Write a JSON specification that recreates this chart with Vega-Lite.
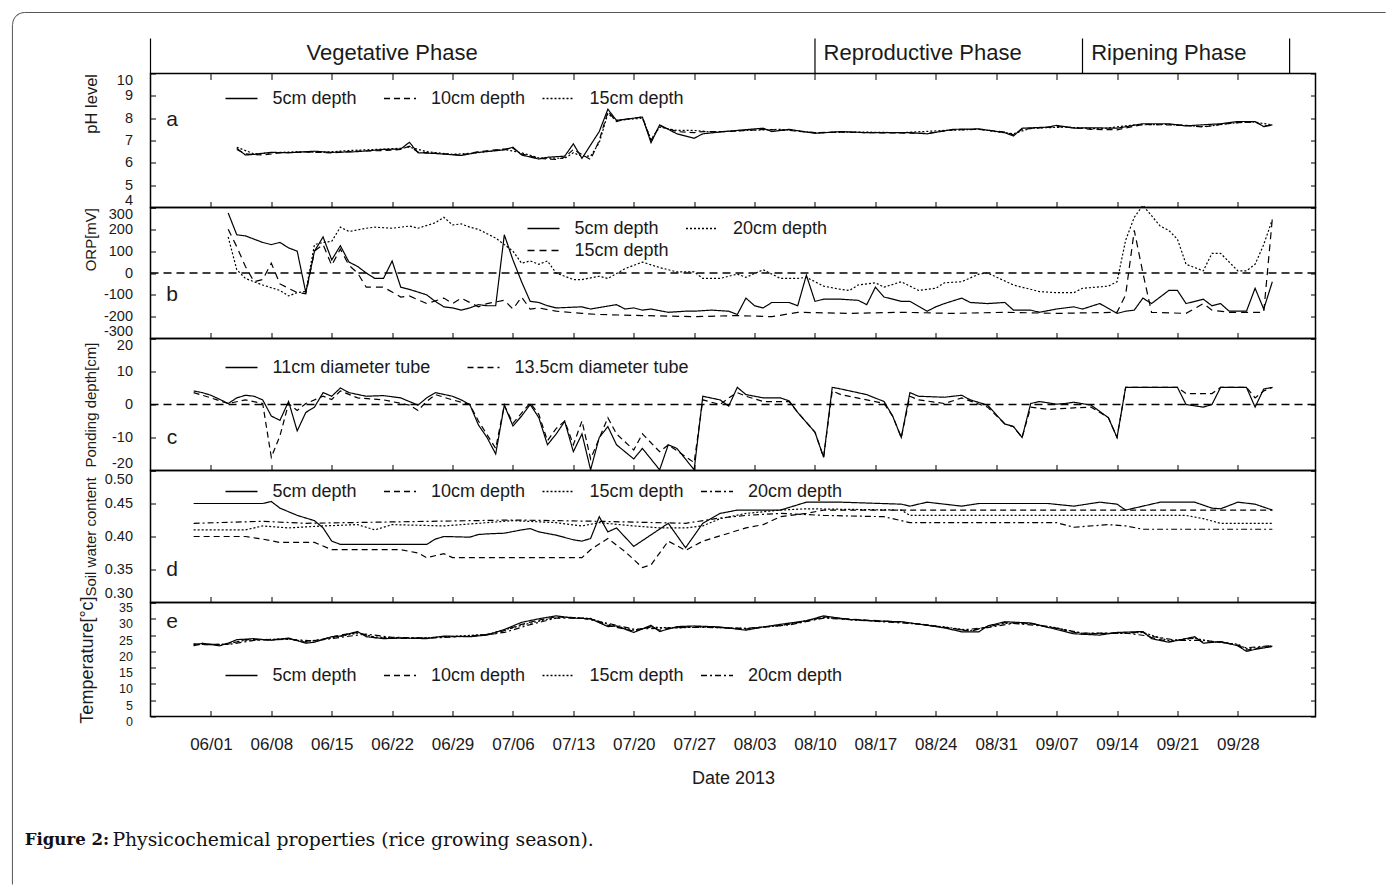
{
"$schema":"https://vega.github.io/schema/vega-lite/v6.json",
"padding":{"left":11.5,"top":11.5,"right":0,"bottom":0},
"background":"white",
"spacing":0,
"bounds":"flush",
"config":{
 "font":"Liberation Sans",
 "view":{"stroke":"black","strokeWidth":1.5},
 "axis":{"labelFont":"Liberation Sans","labelFontSize":14.5,"labelColor":"#1a1a1a","titleFont":"Liberation Sans","titleFontSize":15,"titleFontWeight":"normal","titleColor":"#1a1a1a","tickColor":"black","tickWidth":1,"domain":false,"grid":false},
 "axisY":{"labelFlush":1,"labelOverlap":false},
 "legend":{"orient":"none","direction":"horizontal","symbolType":"stroke","symbolSize":1024,"symbolStrokeWidth":1.3,"symbolStrokeColor":"black","labelFont":"Liberation Sans","labelFontSize":18,"labelColor":"#1a1a1a","labelOffset":14,"labelLimit":320,"columnPadding":15.5,"rowPadding":2,"gridAlign":"all","clipHeight":20,"padding":0}
},
"resolve":{"scale":{"x":"independent","y":"independent","strokeDash":"independent"},"legend":{"strokeDash":"independent"}},
"datasets":{
"phases":[{"date":"2013-05-25"},{"date":"2013-08-10"},{"date":"2013-09-10"},{"date":"2013-10-04"}],
"phaseC":[{"date":"2013-06-22","name":"Vegetative Phase"}],
"phaseL":[{"date":"2013-08-11","name":"Reproductive Phase"},{"date":"2013-09-11","name":"Ripening Phase"}],
"ph":[
{"date":"2013-06-04","depth":"5cm depth","value":6.65},{"date":"2013-06-05","depth":"5cm depth","value":6.35},{"date":"2013-06-06","depth":"5cm depth","value":6.38},{"date":"2013-06-08","depth":"5cm depth","value":6.47},{"date":"2013-06-10","depth":"5cm depth","value":6.45},{"date":"2013-06-13","depth":"5cm depth","value":6.52},{"date":"2013-06-15","depth":"5cm depth","value":6.47},{"date":"2013-06-18","depth":"5cm depth","value":6.5},{"date":"2013-06-21","depth":"5cm depth","value":6.6},{"date":"2013-06-23","depth":"5cm depth","value":6.62},{"date":"2013-06-24","depth":"5cm depth","value":6.92},{"date":"2013-06-25","depth":"5cm depth","value":6.45},{"date":"2013-06-27","depth":"5cm depth","value":6.42},{"date":"2013-06-30","depth":"5cm depth","value":6.33},{"date":"2013-07-02","depth":"5cm depth","value":6.47},{"date":"2013-07-05","depth":"5cm depth","value":6.58},{"date":"2013-07-06","depth":"5cm depth","value":6.7},{"date":"2013-07-07","depth":"5cm depth","value":6.35},{"date":"2013-07-09","depth":"5cm depth","value":6.17},{"date":"2013-07-10","depth":"5cm depth","value":6.25},{"date":"2013-07-12","depth":"5cm depth","value":6.3},{"date":"2013-07-13","depth":"5cm depth","value":6.85},{"date":"2013-07-14","depth":"5cm depth","value":6.2},{"date":"2013-07-16","depth":"5cm depth","value":7.4},{"date":"2013-07-17","depth":"5cm depth","value":8.4},{"date":"2013-07-18","depth":"5cm depth","value":7.9},{"date":"2013-07-19","depth":"5cm depth","value":7.95},{"date":"2013-07-21","depth":"5cm depth","value":8.05},{"date":"2013-07-22","depth":"5cm depth","value":6.9},{"date":"2013-07-23","depth":"5cm depth","value":7.7},{"date":"2013-07-25","depth":"5cm depth","value":7.3},{"date":"2013-07-27","depth":"5cm depth","value":7.1},{"date":"2013-07-28","depth":"5cm depth","value":7.3},{"date":"2013-07-31","depth":"5cm depth","value":7.42},{"date":"2013-08-04","depth":"5cm depth","value":7.55},{"date":"2013-08-05","depth":"5cm depth","value":7.4},{"date":"2013-08-07","depth":"5cm depth","value":7.5},{"date":"2013-08-10","depth":"5cm depth","value":7.32},{"date":"2013-08-13","depth":"5cm depth","value":7.4},{"date":"2013-08-16","depth":"5cm depth","value":7.35},{"date":"2013-08-21","depth":"5cm depth","value":7.35},{"date":"2013-08-23","depth":"5cm depth","value":7.3},{"date":"2013-08-26","depth":"5cm depth","value":7.5},{"date":"2013-08-29","depth":"5cm depth","value":7.52},{"date":"2013-09-01","depth":"5cm depth","value":7.35},{"date":"2013-09-02","depth":"5cm depth","value":7.2},{"date":"2013-09-03","depth":"5cm depth","value":7.55},{"date":"2013-09-06","depth":"5cm depth","value":7.6},{"date":"2013-09-07","depth":"5cm depth","value":7.68},{"date":"2013-09-09","depth":"5cm depth","value":7.55},{"date":"2013-09-11","depth":"5cm depth","value":7.57},{"date":"2013-09-14","depth":"5cm depth","value":7.55},{"date":"2013-09-17","depth":"5cm depth","value":7.75},{"date":"2013-09-20","depth":"5cm depth","value":7.75},{"date":"2013-09-22","depth":"5cm depth","value":7.65},{"date":"2013-09-23","depth":"5cm depth","value":7.68},{"date":"2013-09-26","depth":"5cm depth","value":7.75},{"date":"2013-09-28","depth":"5cm depth","value":7.85},{"date":"2013-09-30","depth":"5cm depth","value":7.85},{"date":"2013-10-01","depth":"5cm depth","value":7.62},{"date":"2013-10-02","depth":"5cm depth","value":7.7},
{"date":"2013-06-04","depth":"10cm depth","value":6.6},{"date":"2013-06-05","depth":"10cm depth","value":6.4},{"date":"2013-06-07","depth":"10cm depth","value":6.35},{"date":"2013-06-09","depth":"10cm depth","value":6.45},{"date":"2013-06-12","depth":"10cm depth","value":6.48},{"date":"2013-06-15","depth":"10cm depth","value":6.45},{"date":"2013-06-18","depth":"10cm depth","value":6.52},{"date":"2013-06-21","depth":"10cm depth","value":6.55},{"date":"2013-06-23","depth":"10cm depth","value":6.6},{"date":"2013-06-24","depth":"10cm depth","value":6.75},{"date":"2013-06-25","depth":"10cm depth","value":6.48},{"date":"2013-06-28","depth":"10cm depth","value":6.4},{"date":"2013-06-30","depth":"10cm depth","value":6.35},{"date":"2013-07-02","depth":"10cm depth","value":6.5},{"date":"2013-07-05","depth":"10cm depth","value":6.62},{"date":"2013-07-06","depth":"10cm depth","value":6.65},{"date":"2013-07-07","depth":"10cm depth","value":6.4},{"date":"2013-07-09","depth":"10cm depth","value":6.2},{"date":"2013-07-11","depth":"10cm depth","value":6.15},{"date":"2013-07-12","depth":"10cm depth","value":6.25},{"date":"2013-07-13","depth":"10cm depth","value":6.6},{"date":"2013-07-15","depth":"10cm depth","value":6.15},{"date":"2013-07-16","depth":"10cm depth","value":7.0},{"date":"2013-07-17","depth":"10cm depth","value":8.3},{"date":"2013-07-18","depth":"10cm depth","value":7.85},{"date":"2013-07-19","depth":"10cm depth","value":7.95},{"date":"2013-07-21","depth":"10cm depth","value":8.05},{"date":"2013-07-22","depth":"10cm depth","value":7.0},{"date":"2013-07-23","depth":"10cm depth","value":7.65},{"date":"2013-07-25","depth":"10cm depth","value":7.4},{"date":"2013-07-27","depth":"10cm depth","value":7.35},{"date":"2013-07-28","depth":"10cm depth","value":7.4},{"date":"2013-07-31","depth":"10cm depth","value":7.4},{"date":"2013-08-04","depth":"10cm depth","value":7.5},{"date":"2013-08-07","depth":"10cm depth","value":7.45},{"date":"2013-08-10","depth":"10cm depth","value":7.35},{"date":"2013-08-13","depth":"10cm depth","value":7.38},{"date":"2013-08-16","depth":"10cm depth","value":7.35},{"date":"2013-08-21","depth":"10cm depth","value":7.33},{"date":"2013-08-23","depth":"10cm depth","value":7.32},{"date":"2013-08-26","depth":"10cm depth","value":7.48},{"date":"2013-08-29","depth":"10cm depth","value":7.5},{"date":"2013-09-01","depth":"10cm depth","value":7.38},{"date":"2013-09-02","depth":"10cm depth","value":7.25},{"date":"2013-09-03","depth":"10cm depth","value":7.5},{"date":"2013-09-07","depth":"10cm depth","value":7.62},{"date":"2013-09-09","depth":"10cm depth","value":7.58},{"date":"2013-09-11","depth":"10cm depth","value":7.5},{"date":"2013-09-14","depth":"10cm depth","value":7.48},{"date":"2013-09-17","depth":"10cm depth","value":7.72},{"date":"2013-09-20","depth":"10cm depth","value":7.7},{"date":"2013-09-22","depth":"10cm depth","value":7.68},{"date":"2013-09-24","depth":"10cm depth","value":7.6},{"date":"2013-09-26","depth":"10cm depth","value":7.72},{"date":"2013-09-28","depth":"10cm depth","value":7.8},{"date":"2013-09-30","depth":"10cm depth","value":7.83},{"date":"2013-10-01","depth":"10cm depth","value":7.65},{"date":"2013-10-02","depth":"10cm depth","value":7.68},
{"date":"2013-06-04","depth":"15cm depth","value":6.7},{"date":"2013-06-06","depth":"15cm depth","value":6.4},{"date":"2013-06-08","depth":"15cm depth","value":6.45},{"date":"2013-06-11","depth":"15cm depth","value":6.5},{"date":"2013-06-14","depth":"15cm depth","value":6.47},{"date":"2013-06-17","depth":"15cm depth","value":6.55},{"date":"2013-06-20","depth":"15cm depth","value":6.6},{"date":"2013-06-23","depth":"15cm depth","value":6.65},{"date":"2013-06-24","depth":"15cm depth","value":6.7},{"date":"2013-06-26","depth":"15cm depth","value":6.5},{"date":"2013-06-29","depth":"15cm depth","value":6.38},{"date":"2013-07-02","depth":"15cm depth","value":6.45},{"date":"2013-07-05","depth":"15cm depth","value":6.6},{"date":"2013-07-07","depth":"15cm depth","value":6.45},{"date":"2013-07-09","depth":"15cm depth","value":6.22},{"date":"2013-07-12","depth":"15cm depth","value":6.2},{"date":"2013-07-13","depth":"15cm depth","value":6.45},{"date":"2013-07-14","depth":"15cm depth","value":6.3},{"date":"2013-07-15","depth":"15cm depth","value":6.3},{"date":"2013-07-16","depth":"15cm depth","value":6.9},{"date":"2013-07-17","depth":"15cm depth","value":8.2},{"date":"2013-07-18","depth":"15cm depth","value":7.9},{"date":"2013-07-21","depth":"15cm depth","value":8.0},{"date":"2013-07-22","depth":"15cm depth","value":7.05},{"date":"2013-07-23","depth":"15cm depth","value":7.6},{"date":"2013-07-25","depth":"15cm depth","value":7.45},{"date":"2013-07-27","depth":"15cm depth","value":7.45},{"date":"2013-07-29","depth":"15cm depth","value":7.38},{"date":"2013-08-02","depth":"15cm depth","value":7.45},{"date":"2013-08-06","depth":"15cm depth","value":7.5},{"date":"2013-08-10","depth":"15cm depth","value":7.35},{"date":"2013-08-15","depth":"15cm depth","value":7.38},{"date":"2013-08-20","depth":"15cm depth","value":7.35},{"date":"2013-08-25","depth":"15cm depth","value":7.45},{"date":"2013-08-29","depth":"15cm depth","value":7.5},{"date":"2013-09-02","depth":"15cm depth","value":7.3},{"date":"2013-09-04","depth":"15cm depth","value":7.55},{"date":"2013-09-08","depth":"15cm depth","value":7.6},{"date":"2013-09-12","depth":"15cm depth","value":7.52},{"date":"2013-09-16","depth":"15cm depth","value":7.7},{"date":"2013-09-20","depth":"15cm depth","value":7.72},{"date":"2013-09-24","depth":"15cm depth","value":7.62},{"date":"2013-09-28","depth":"15cm depth","value":7.8},{"date":"2013-09-30","depth":"15cm depth","value":7.82},{"date":"2013-10-02","depth":"15cm depth","value":7.7}
],
"orp":[
{"date":"2013-06-03","depth":"5cm depth","value":275},{"date":"2013-06-04","depth":"5cm depth","value":175},{"date":"2013-06-05","depth":"5cm depth","value":170},{"date":"2013-06-07","depth":"5cm depth","value":140},{"date":"2013-06-08","depth":"5cm depth","value":130},{"date":"2013-06-09","depth":"5cm depth","value":140},{"date":"2013-06-10","depth":"5cm depth","value":115},{"date":"2013-06-11","depth":"5cm depth","value":100},{"date":"2013-06-12","depth":"5cm depth","value":-90},{"date":"2013-06-13","depth":"5cm depth","value":100},{"date":"2013-06-14","depth":"5cm depth","value":165},{"date":"2013-06-15","depth":"5cm depth","value":60},{"date":"2013-06-16","depth":"5cm depth","value":125},{"date":"2013-06-17","depth":"5cm depth","value":50},{"date":"2013-06-18","depth":"5cm depth","value":30},{"date":"2013-06-19","depth":"5cm depth","value":0},{"date":"2013-06-20","depth":"5cm depth","value":-25},{"date":"2013-06-21","depth":"5cm depth","value":-25},{"date":"2013-06-22","depth":"5cm depth","value":55},{"date":"2013-06-23","depth":"5cm depth","value":-65},{"date":"2013-06-24","depth":"5cm depth","value":-75},{"date":"2013-06-26","depth":"5cm depth","value":-100},{"date":"2013-06-27","depth":"5cm depth","value":-130},{"date":"2013-06-28","depth":"5cm depth","value":-155},{"date":"2013-06-29","depth":"5cm depth","value":-160},{"date":"2013-06-30","depth":"5cm depth","value":-170},{"date":"2013-07-01","depth":"5cm depth","value":-160},{"date":"2013-07-02","depth":"5cm depth","value":-145},{"date":"2013-07-03","depth":"5cm depth","value":-150},{"date":"2013-07-04","depth":"5cm depth","value":-150},{"date":"2013-07-05","depth":"5cm depth","value":175},{"date":"2013-07-06","depth":"5cm depth","value":60},{"date":"2013-07-07","depth":"5cm depth","value":-40},{"date":"2013-07-08","depth":"5cm depth","value":-130},{"date":"2013-07-09","depth":"5cm depth","value":-135},{"date":"2013-07-10","depth":"5cm depth","value":-150},{"date":"2013-07-11","depth":"5cm depth","value":-160},{"date":"2013-07-14","depth":"5cm depth","value":-155},{"date":"2013-07-15","depth":"5cm depth","value":-165},{"date":"2013-07-18","depth":"5cm depth","value":-145},{"date":"2013-07-19","depth":"5cm depth","value":-165},{"date":"2013-07-20","depth":"5cm depth","value":-160},{"date":"2013-07-21","depth":"5cm depth","value":-170},{"date":"2013-07-22","depth":"5cm depth","value":-165},{"date":"2013-07-24","depth":"5cm depth","value":-180},{"date":"2013-07-26","depth":"5cm depth","value":-175},{"date":"2013-07-27","depth":"5cm depth","value":-175},{"date":"2013-07-29","depth":"5cm depth","value":-170},{"date":"2013-07-31","depth":"5cm depth","value":-175},{"date":"2013-08-01","depth":"5cm depth","value":-190},{"date":"2013-08-02","depth":"5cm depth","value":-115},{"date":"2013-08-03","depth":"5cm depth","value":-150},{"date":"2013-08-04","depth":"5cm depth","value":-160},{"date":"2013-08-05","depth":"5cm depth","value":-135},{"date":"2013-08-07","depth":"5cm depth","value":-135},{"date":"2013-08-08","depth":"5cm depth","value":-150},{"date":"2013-08-09","depth":"5cm depth","value":-10},{"date":"2013-08-10","depth":"5cm depth","value":-130},{"date":"2013-08-11","depth":"5cm depth","value":-120},{"date":"2013-08-13","depth":"5cm depth","value":-120},{"date":"2013-08-15","depth":"5cm depth","value":-125},{"date":"2013-08-16","depth":"5cm depth","value":-145},{"date":"2013-08-17","depth":"5cm depth","value":-65},{"date":"2013-08-18","depth":"5cm depth","value":-110},{"date":"2013-08-20","depth":"5cm depth","value":-130},{"date":"2013-08-21","depth":"5cm depth","value":-130},{"date":"2013-08-23","depth":"5cm depth","value":-175},{"date":"2013-08-24","depth":"5cm depth","value":-155},{"date":"2013-08-25","depth":"5cm depth","value":-140},{"date":"2013-08-27","depth":"5cm depth","value":-115},{"date":"2013-08-28","depth":"5cm depth","value":-135},{"date":"2013-08-30","depth":"5cm depth","value":-140},{"date":"2013-09-01","depth":"5cm depth","value":-135},{"date":"2013-09-02","depth":"5cm depth","value":-170},{"date":"2013-09-04","depth":"5cm depth","value":-170},{"date":"2013-09-05","depth":"5cm depth","value":-180},{"date":"2013-09-07","depth":"5cm depth","value":-165},{"date":"2013-09-09","depth":"5cm depth","value":-155},{"date":"2013-09-10","depth":"5cm depth","value":-165},{"date":"2013-09-12","depth":"5cm depth","value":-140},{"date":"2013-09-14","depth":"5cm depth","value":-185},{"date":"2013-09-15","depth":"5cm depth","value":-175},{"date":"2013-09-16","depth":"5cm depth","value":-170},{"date":"2013-09-17","depth":"5cm depth","value":-115},{"date":"2013-09-18","depth":"5cm depth","value":-140},{"date":"2013-09-20","depth":"5cm depth","value":-80},{"date":"2013-09-21","depth":"5cm depth","value":-80},{"date":"2013-09-22","depth":"5cm depth","value":-140},{"date":"2013-09-24","depth":"5cm depth","value":-120},{"date":"2013-09-25","depth":"5cm depth","value":-150},{"date":"2013-09-26","depth":"5cm depth","value":-140},{"date":"2013-09-27","depth":"5cm depth","value":-175},{"date":"2013-09-29","depth":"5cm depth","value":-175},{"date":"2013-09-30","depth":"5cm depth","value":-70},{"date":"2013-10-01","depth":"5cm depth","value":-165},{"date":"2013-10-02","depth":"5cm depth","value":-40},
{"date":"2013-06-03","depth":"15cm depth","value":200},{"date":"2013-06-04","depth":"15cm depth","value":120},{"date":"2013-06-05","depth":"15cm depth","value":30},{"date":"2013-06-06","depth":"15cm depth","value":-40},{"date":"2013-06-07","depth":"15cm depth","value":-30},{"date":"2013-06-08","depth":"15cm depth","value":45},{"date":"2013-06-09","depth":"15cm depth","value":-50},{"date":"2013-06-10","depth":"15cm depth","value":-70},{"date":"2013-06-11","depth":"15cm depth","value":-90},{"date":"2013-06-12","depth":"15cm depth","value":-95},{"date":"2013-06-13","depth":"15cm depth","value":100},{"date":"2013-06-14","depth":"15cm depth","value":130},{"date":"2013-06-15","depth":"15cm depth","value":35},{"date":"2013-06-16","depth":"15cm depth","value":110},{"date":"2013-06-17","depth":"15cm depth","value":35},{"date":"2013-06-18","depth":"15cm depth","value":0},{"date":"2013-06-19","depth":"15cm depth","value":-65},{"date":"2013-06-21","depth":"15cm depth","value":-65},{"date":"2013-06-23","depth":"15cm depth","value":-110},{"date":"2013-06-24","depth":"15cm depth","value":-105},{"date":"2013-06-26","depth":"15cm depth","value":-140},{"date":"2013-06-28","depth":"15cm depth","value":-115},{"date":"2013-06-29","depth":"15cm depth","value":-140},{"date":"2013-06-30","depth":"15cm depth","value":-115},{"date":"2013-07-02","depth":"15cm depth","value":-155},{"date":"2013-07-03","depth":"15cm depth","value":-140},{"date":"2013-07-05","depth":"15cm depth","value":-125},{"date":"2013-07-06","depth":"15cm depth","value":-165},{"date":"2013-07-07","depth":"15cm depth","value":-110},{"date":"2013-07-08","depth":"15cm depth","value":-165},{"date":"2013-07-09","depth":"15cm depth","value":-160},{"date":"2013-07-11","depth":"15cm depth","value":-175},{"date":"2013-07-14","depth":"15cm depth","value":-185},{"date":"2013-07-16","depth":"15cm depth","value":-190},{"date":"2013-07-21","depth":"15cm depth","value":-195},{"date":"2013-07-27","depth":"15cm depth","value":-200},{"date":"2013-08-01","depth":"15cm depth","value":-195},{"date":"2013-08-05","depth":"15cm depth","value":-200},{"date":"2013-08-08","depth":"15cm depth","value":-180},{"date":"2013-08-14","depth":"15cm depth","value":-185},{"date":"2013-08-20","depth":"15cm depth","value":-180},{"date":"2013-08-26","depth":"15cm depth","value":-185},{"date":"2013-09-01","depth":"15cm depth","value":-180},{"date":"2013-09-07","depth":"15cm depth","value":-185},{"date":"2013-09-14","depth":"15cm depth","value":-180},{"date":"2013-09-15","depth":"15cm depth","value":-100},{"date":"2013-09-16","depth":"15cm depth","value":195},{"date":"2013-09-17","depth":"15cm depth","value":0},{"date":"2013-09-18","depth":"15cm depth","value":-180},{"date":"2013-09-22","depth":"15cm depth","value":-185},{"date":"2013-09-24","depth":"15cm depth","value":-140},{"date":"2013-09-25","depth":"15cm depth","value":-170},{"date":"2013-09-27","depth":"15cm depth","value":-180},{"date":"2013-10-01","depth":"15cm depth","value":-180},{"date":"2013-10-02","depth":"15cm depth","value":250},
{"date":"2013-06-03","depth":"20cm depth","value":165},{"date":"2013-06-04","depth":"20cm depth","value":15},{"date":"2013-06-05","depth":"20cm depth","value":-25},{"date":"2013-06-07","depth":"20cm depth","value":-55},{"date":"2013-06-09","depth":"20cm depth","value":-80},{"date":"2013-06-10","depth":"20cm depth","value":-105},{"date":"2013-06-11","depth":"20cm depth","value":-90},{"date":"2013-06-12","depth":"20cm depth","value":-85},{"date":"2013-06-13","depth":"20cm depth","value":130},{"date":"2013-06-14","depth":"20cm depth","value":140},{"date":"2013-06-15","depth":"20cm depth","value":145},{"date":"2013-06-16","depth":"20cm depth","value":210},{"date":"2013-06-17","depth":"20cm depth","value":190},{"date":"2013-06-19","depth":"20cm depth","value":205},{"date":"2013-06-20","depth":"20cm depth","value":210},{"date":"2013-06-22","depth":"20cm depth","value":205},{"date":"2013-06-24","depth":"20cm depth","value":215},{"date":"2013-06-25","depth":"20cm depth","value":205},{"date":"2013-06-27","depth":"20cm depth","value":230},{"date":"2013-06-28","depth":"20cm depth","value":255},{"date":"2013-06-29","depth":"20cm depth","value":220},{"date":"2013-06-30","depth":"20cm depth","value":225},{"date":"2013-07-01","depth":"20cm depth","value":210},{"date":"2013-07-02","depth":"20cm depth","value":200},{"date":"2013-07-03","depth":"20cm depth","value":180},{"date":"2013-07-04","depth":"20cm depth","value":160},{"date":"2013-07-06","depth":"20cm depth","value":100},{"date":"2013-07-07","depth":"20cm depth","value":45},{"date":"2013-07-08","depth":"20cm depth","value":55},{"date":"2013-07-09","depth":"20cm depth","value":40},{"date":"2013-07-10","depth":"20cm depth","value":55},{"date":"2013-07-11","depth":"20cm depth","value":0},{"date":"2013-07-13","depth":"20cm depth","value":-30},{"date":"2013-07-14","depth":"20cm depth","value":-30},{"date":"2013-07-16","depth":"20cm depth","value":-15},{"date":"2013-07-17","depth":"20cm depth","value":-25},{"date":"2013-07-19","depth":"20cm depth","value":20},{"date":"2013-07-21","depth":"20cm depth","value":50},{"date":"2013-07-23","depth":"20cm depth","value":25},{"date":"2013-07-25","depth":"20cm depth","value":5},{"date":"2013-07-27","depth":"20cm depth","value":5},{"date":"2013-07-28","depth":"20cm depth","value":-25},{"date":"2013-07-30","depth":"20cm depth","value":-25},{"date":"2013-08-01","depth":"20cm depth","value":-5},{"date":"2013-08-02","depth":"20cm depth","value":-20},{"date":"2013-08-04","depth":"20cm depth","value":15},{"date":"2013-08-06","depth":"20cm depth","value":-25},{"date":"2013-08-08","depth":"20cm depth","value":-25},{"date":"2013-08-09","depth":"20cm depth","value":-20},{"date":"2013-08-11","depth":"20cm depth","value":-60},{"date":"2013-08-13","depth":"20cm depth","value":-75},{"date":"2013-08-14","depth":"20cm depth","value":-80},{"date":"2013-08-15","depth":"20cm depth","value":-55},{"date":"2013-08-17","depth":"20cm depth","value":-45},{"date":"2013-08-18","depth":"20cm depth","value":-65},{"date":"2013-08-20","depth":"20cm depth","value":-40},{"date":"2013-08-22","depth":"20cm depth","value":-80},{"date":"2013-08-24","depth":"20cm depth","value":-70},{"date":"2013-08-25","depth":"20cm depth","value":-45},{"date":"2013-08-27","depth":"20cm depth","value":-40},{"date":"2013-08-29","depth":"20cm depth","value":-5},{"date":"2013-08-30","depth":"20cm depth","value":0},{"date":"2013-09-02","depth":"20cm depth","value":-55},{"date":"2013-09-05","depth":"20cm depth","value":-85},{"date":"2013-09-07","depth":"20cm depth","value":-90},{"date":"2013-09-09","depth":"20cm depth","value":-90},{"date":"2013-09-10","depth":"20cm depth","value":-70},{"date":"2013-09-13","depth":"20cm depth","value":-60},{"date":"2013-09-14","depth":"20cm depth","value":-40},{"date":"2013-09-15","depth":"20cm depth","value":150},{"date":"2013-09-16","depth":"20cm depth","value":255},{"date":"2013-09-17","depth":"20cm depth","value":310},{"date":"2013-09-19","depth":"20cm depth","value":215},{"date":"2013-09-20","depth":"20cm depth","value":195},{"date":"2013-09-21","depth":"20cm depth","value":155},{"date":"2013-09-22","depth":"20cm depth","value":40},{"date":"2013-09-24","depth":"20cm depth","value":10},{"date":"2013-09-25","depth":"20cm depth","value":90},{"date":"2013-09-26","depth":"20cm depth","value":90},{"date":"2013-09-28","depth":"20cm depth","value":10},{"date":"2013-09-29","depth":"20cm depth","value":10},{"date":"2013-09-30","depth":"20cm depth","value":40},{"date":"2013-10-01","depth":"20cm depth","value":130},{"date":"2013-10-02","depth":"20cm depth","value":245}
],
"pond":[
{"date":"2013-05-30","tube":"11cm diameter tube","value":4.1},{"date":"2013-05-31","tube":"11cm diameter tube","value":3.6},{"date":"2013-06-01","tube":"11cm diameter tube","value":2.8},{"date":"2013-06-02","tube":"11cm diameter tube","value":1.6},{"date":"2013-06-03","tube":"11cm diameter tube","value":0.3},{"date":"2013-06-04","tube":"11cm diameter tube","value":2.0},{"date":"2013-06-05","tube":"11cm diameter tube","value":2.8},{"date":"2013-06-06","tube":"11cm diameter tube","value":2.5},{"date":"2013-06-07","tube":"11cm diameter tube","value":1.4},{"date":"2013-06-08","tube":"11cm diameter tube","value":-3.5},{"date":"2013-06-09","tube":"11cm diameter tube","value":-4.8},{"date":"2013-06-10","tube":"11cm diameter tube","value":0.9},{"date":"2013-06-11","tube":"11cm diameter tube","value":-8},{"date":"2013-06-12","tube":"11cm diameter tube","value":-2.4},{"date":"2013-06-13","tube":"11cm diameter tube","value":-0.8},{"date":"2013-06-14","tube":"11cm diameter tube","value":3.6},{"date":"2013-06-15","tube":"11cm diameter tube","value":2.5},{"date":"2013-06-16","tube":"11cm diameter tube","value":5},{"date":"2013-06-17","tube":"11cm diameter tube","value":3.6},{"date":"2013-06-19","tube":"11cm diameter tube","value":2.5},{"date":"2013-06-21","tube":"11cm diameter tube","value":2.7},{"date":"2013-06-23","tube":"11cm diameter tube","value":2},{"date":"2013-06-24","tube":"11cm diameter tube","value":0.9},{"date":"2013-06-25","tube":"11cm diameter tube","value":-0.2},{"date":"2013-06-26","tube":"11cm diameter tube","value":2},{"date":"2013-06-27","tube":"11cm diameter tube","value":3.6},{"date":"2013-06-29","tube":"11cm diameter tube","value":2.5},{"date":"2013-06-30","tube":"11cm diameter tube","value":1.4},{"date":"2013-07-01","tube":"11cm diameter tube","value":0},{"date":"2013-07-02","tube":"11cm diameter tube","value":-6.2},{"date":"2013-07-03","tube":"11cm diameter tube","value":-10},{"date":"2013-07-04","tube":"11cm diameter tube","value":-15},{"date":"2013-07-05","tube":"11cm diameter tube","value":-0.2},{"date":"2013-07-06","tube":"11cm diameter tube","value":-6.5},{"date":"2013-07-07","tube":"11cm diameter tube","value":-3.5},{"date":"2013-07-08","tube":"11cm diameter tube","value":0},{"date":"2013-07-09","tube":"11cm diameter tube","value":-4},{"date":"2013-07-10","tube":"11cm diameter tube","value":-12.2},{"date":"2013-07-11","tube":"11cm diameter tube","value":-9},{"date":"2013-07-12","tube":"11cm diameter tube","value":-5.1},{"date":"2013-07-13","tube":"11cm diameter tube","value":-14.3},{"date":"2013-07-14","tube":"11cm diameter tube","value":-8.9},{"date":"2013-07-15","tube":"11cm diameter tube","value":-19.8},{"date":"2013-07-16","tube":"11cm diameter tube","value":-10},{"date":"2013-07-17","tube":"11cm diameter tube","value":-6.7},{"date":"2013-07-18","tube":"11cm diameter tube","value":-12.2},{"date":"2013-07-20","tube":"11cm diameter tube","value":-16.5},{"date":"2013-07-21","tube":"11cm diameter tube","value":-13.3},{"date":"2013-07-23","tube":"11cm diameter tube","value":-19.8},{"date":"2013-07-24","tube":"11cm diameter tube","value":-12.2},{"date":"2013-07-25","tube":"11cm diameter tube","value":-13.3},{"date":"2013-07-27","tube":"11cm diameter tube","value":-19.8},{"date":"2013-07-28","tube":"11cm diameter tube","value":2.5},{"date":"2013-07-30","tube":"11cm diameter tube","value":1.4},{"date":"2013-07-31","tube":"11cm diameter tube","value":-0.5},{"date":"2013-08-01","tube":"11cm diameter tube","value":5.2},{"date":"2013-08-02","tube":"11cm diameter tube","value":3},{"date":"2013-08-04","tube":"11cm diameter tube","value":2},{"date":"2013-08-06","tube":"11cm diameter tube","value":2},{"date":"2013-08-07","tube":"11cm diameter tube","value":1.1},{"date":"2013-08-08","tube":"11cm diameter tube","value":-2.4},{"date":"2013-08-10","tube":"11cm diameter tube","value":-8.4},{"date":"2013-08-11","tube":"11cm diameter tube","value":-16},{"date":"2013-08-12","tube":"11cm diameter tube","value":5.2},{"date":"2013-08-13","tube":"11cm diameter tube","value":4.7},{"date":"2013-08-16","tube":"11cm diameter tube","value":3},{"date":"2013-08-18","tube":"11cm diameter tube","value":0.9},{"date":"2013-08-19","tube":"11cm diameter tube","value":-3.5},{"date":"2013-08-20","tube":"11cm diameter tube","value":-10},{"date":"2013-08-21","tube":"11cm diameter tube","value":3.6},{"date":"2013-08-22","tube":"11cm diameter tube","value":2.5},{"date":"2013-08-25","tube":"11cm diameter tube","value":2.2},{"date":"2013-08-27","tube":"11cm diameter tube","value":2.8},{"date":"2013-08-28","tube":"11cm diameter tube","value":1.4},{"date":"2013-08-30","tube":"11cm diameter tube","value":-0.2},{"date":"2013-09-01","tube":"11cm diameter tube","value":-5.9},{"date":"2013-09-02","tube":"11cm diameter tube","value":-6.7},{"date":"2013-09-03","tube":"11cm diameter tube","value":-10},{"date":"2013-09-04","tube":"11cm diameter tube","value":0.3},{"date":"2013-09-05","tube":"11cm diameter tube","value":0.9},{"date":"2013-09-07","tube":"11cm diameter tube","value":0.1},{"date":"2013-09-08","tube":"11cm diameter tube","value":0.3},{"date":"2013-09-09","tube":"11cm diameter tube","value":0.7},{"date":"2013-09-11","tube":"11cm diameter tube","value":-0.2},{"date":"2013-09-13","tube":"11cm diameter tube","value":-4},{"date":"2013-09-14","tube":"11cm diameter tube","value":-10},{"date":"2013-09-15","tube":"11cm diameter tube","value":5.2},{"date":"2013-09-21","tube":"11cm diameter tube","value":5.2},{"date":"2013-09-22","tube":"11cm diameter tube","value":0},{"date":"2013-09-24","tube":"11cm diameter tube","value":-0.8},{"date":"2013-09-25","tube":"11cm diameter tube","value":0},{"date":"2013-09-26","tube":"11cm diameter tube","value":5.2},{"date":"2013-09-29","tube":"11cm diameter tube","value":5.2},{"date":"2013-09-30","tube":"11cm diameter tube","value":-0.8},{"date":"2013-10-01","tube":"11cm diameter tube","value":4.7},{"date":"2013-10-02","tube":"11cm diameter tube","value":5.2},
{"date":"2013-05-30","tube":"13.5cm diameter tube","value":3.6},{"date":"2013-06-01","tube":"13.5cm diameter tube","value":2},{"date":"2013-06-03","tube":"13.5cm diameter tube","value":0.3},{"date":"2013-06-05","tube":"13.5cm diameter tube","value":1.4},{"date":"2013-06-07","tube":"13.5cm diameter tube","value":0.3},{"date":"2013-06-08","tube":"13.5cm diameter tube","value":-16},{"date":"2013-06-09","tube":"13.5cm diameter tube","value":-9.5},{"date":"2013-06-10","tube":"13.5cm diameter tube","value":0.3},{"date":"2013-06-11","tube":"13.5cm diameter tube","value":-1.8},{"date":"2013-06-12","tube":"13.5cm diameter tube","value":0.3},{"date":"2013-06-14","tube":"13.5cm diameter tube","value":2.5},{"date":"2013-06-15","tube":"13.5cm diameter tube","value":1.5},{"date":"2013-06-16","tube":"13.5cm diameter tube","value":4.1},{"date":"2013-06-18","tube":"13.5cm diameter tube","value":2},{"date":"2013-06-21","tube":"13.5cm diameter tube","value":1.4},{"date":"2013-06-24","tube":"13.5cm diameter tube","value":-0.2},{"date":"2013-06-25","tube":"13.5cm diameter tube","value":-1.8},{"date":"2013-06-26","tube":"13.5cm diameter tube","value":0.9},{"date":"2013-06-27","tube":"13.5cm diameter tube","value":3},{"date":"2013-06-29","tube":"13.5cm diameter tube","value":1.4},{"date":"2013-07-01","tube":"13.5cm diameter tube","value":0},{"date":"2013-07-02","tube":"13.5cm diameter tube","value":-5},{"date":"2013-07-04","tube":"13.5cm diameter tube","value":-13.3},{"date":"2013-07-05","tube":"13.5cm diameter tube","value":-0.2},{"date":"2013-07-06","tube":"13.5cm diameter tube","value":-5.7},{"date":"2013-07-08","tube":"13.5cm diameter tube","value":0.5},{"date":"2013-07-09","tube":"13.5cm diameter tube","value":-3},{"date":"2013-07-10","tube":"13.5cm diameter tube","value":-11},{"date":"2013-07-11","tube":"13.5cm diameter tube","value":-7.3},{"date":"2013-07-12","tube":"13.5cm diameter tube","value":-5},{"date":"2013-07-13","tube":"13.5cm diameter tube","value":-12.2},{"date":"2013-07-14","tube":"13.5cm diameter tube","value":-5},{"date":"2013-07-15","tube":"13.5cm diameter tube","value":-16.5},{"date":"2013-07-17","tube":"13.5cm diameter tube","value":-4},{"date":"2013-07-18","tube":"13.5cm diameter tube","value":-8.9},{"date":"2013-07-20","tube":"13.5cm diameter tube","value":-13.8},{"date":"2013-07-21","tube":"13.5cm diameter tube","value":-8.9},{"date":"2013-07-23","tube":"13.5cm diameter tube","value":-14.3},{"date":"2013-07-24","tube":"13.5cm diameter tube","value":-12.2},{"date":"2013-07-27","tube":"13.5cm diameter tube","value":-17.6},{"date":"2013-07-28","tube":"13.5cm diameter tube","value":1.4},{"date":"2013-07-30","tube":"13.5cm diameter tube","value":0},{"date":"2013-07-31","tube":"13.5cm diameter tube","value":2},{"date":"2013-08-01","tube":"13.5cm diameter tube","value":3.6},{"date":"2013-08-02","tube":"13.5cm diameter tube","value":2.5},{"date":"2013-08-04","tube":"13.5cm diameter tube","value":0.9},{"date":"2013-08-07","tube":"13.5cm diameter tube","value":0.9},{"date":"2013-08-08","tube":"13.5cm diameter tube","value":-2.4},{"date":"2013-08-10","tube":"13.5cm diameter tube","value":-8.4},{"date":"2013-08-11","tube":"13.5cm diameter tube","value":-16},{"date":"2013-08-12","tube":"13.5cm diameter tube","value":4.1},{"date":"2013-08-13","tube":"13.5cm diameter tube","value":3},{"date":"2013-08-16","tube":"13.5cm diameter tube","value":1.4},{"date":"2013-08-18","tube":"13.5cm diameter tube","value":0.3},{"date":"2013-08-19","tube":"13.5cm diameter tube","value":-3.5},{"date":"2013-08-20","tube":"13.5cm diameter tube","value":-10},{"date":"2013-08-21","tube":"13.5cm diameter tube","value":2.5},{"date":"2013-08-22","tube":"13.5cm diameter tube","value":1.4},{"date":"2013-08-25","tube":"13.5cm diameter tube","value":0.3},{"date":"2013-08-27","tube":"13.5cm diameter tube","value":2},{"date":"2013-08-30","tube":"13.5cm diameter tube","value":-0.8},{"date":"2013-09-01","tube":"13.5cm diameter tube","value":-5.9},{"date":"2013-09-02","tube":"13.5cm diameter tube","value":-6.7},{"date":"2013-09-03","tube":"13.5cm diameter tube","value":-10},{"date":"2013-09-04","tube":"13.5cm diameter tube","value":-0.8},{"date":"2013-09-06","tube":"13.5cm diameter tube","value":-1.5},{"date":"2013-09-09","tube":"13.5cm diameter tube","value":-1},{"date":"2013-09-11","tube":"13.5cm diameter tube","value":-0.8},{"date":"2013-09-13","tube":"13.5cm diameter tube","value":-4},{"date":"2013-09-14","tube":"13.5cm diameter tube","value":-10},{"date":"2013-09-15","tube":"13.5cm diameter tube","value":5.2},{"date":"2013-09-21","tube":"13.5cm diameter tube","value":5.2},{"date":"2013-09-22","tube":"13.5cm diameter tube","value":3.3},{"date":"2013-09-25","tube":"13.5cm diameter tube","value":3.3},{"date":"2013-09-26","tube":"13.5cm diameter tube","value":5.2},{"date":"2013-09-29","tube":"13.5cm diameter tube","value":5.2},{"date":"2013-09-30","tube":"13.5cm diameter tube","value":2},{"date":"2013-10-01","tube":"13.5cm diameter tube","value":4.1},{"date":"2013-10-02","tube":"13.5cm diameter tube","value":5.2}
],
"swc":[
{"date":"2013-05-30","depth":"5cm depth","value":0.45},{"date":"2013-06-07","depth":"5cm depth","value":0.45},{"date":"2013-06-08","depth":"5cm depth","value":0.453},{"date":"2013-06-09","depth":"5cm depth","value":0.443},{"date":"2013-06-11","depth":"5cm depth","value":0.432},{"date":"2013-06-13","depth":"5cm depth","value":0.424},{"date":"2013-06-14","depth":"5cm depth","value":0.413},{"date":"2013-06-15","depth":"5cm depth","value":0.393},{"date":"2013-06-16","depth":"5cm depth","value":0.388},{"date":"2013-06-26","depth":"5cm depth","value":0.388},{"date":"2013-06-27","depth":"5cm depth","value":0.396},{"date":"2013-06-28","depth":"5cm depth","value":0.4},{"date":"2013-07-01","depth":"5cm depth","value":0.399},{"date":"2013-07-02","depth":"5cm depth","value":0.403},{"date":"2013-07-03","depth":"5cm depth","value":0.404},{"date":"2013-07-05","depth":"5cm depth","value":0.405},{"date":"2013-07-07","depth":"5cm depth","value":0.41},{"date":"2013-07-08","depth":"5cm depth","value":0.412},{"date":"2013-07-09","depth":"5cm depth","value":0.407},{"date":"2013-07-11","depth":"5cm depth","value":0.402},{"date":"2013-07-13","depth":"5cm depth","value":0.395},{"date":"2013-07-14","depth":"5cm depth","value":0.393},{"date":"2013-07-15","depth":"5cm depth","value":0.397},{"date":"2013-07-16","depth":"5cm depth","value":0.43},{"date":"2013-07-17","depth":"5cm depth","value":0.407},{"date":"2013-07-18","depth":"5cm depth","value":0.413},{"date":"2013-07-20","depth":"5cm depth","value":0.385},{"date":"2013-07-24","depth":"5cm depth","value":0.42},{"date":"2013-07-26","depth":"5cm depth","value":0.383},{"date":"2013-07-28","depth":"5cm depth","value":0.42},{"date":"2013-07-30","depth":"5cm depth","value":0.435},{"date":"2013-08-01","depth":"5cm depth","value":0.44},{"date":"2013-08-06","depth":"5cm depth","value":0.44},{"date":"2013-08-09","depth":"5cm depth","value":0.452},{"date":"2013-08-13","depth":"5cm depth","value":0.452},{"date":"2013-08-20","depth":"5cm depth","value":0.449},{"date":"2013-08-21","depth":"5cm depth","value":0.446},{"date":"2013-08-23","depth":"5cm depth","value":0.452},{"date":"2013-08-27","depth":"5cm depth","value":0.446},{"date":"2013-08-29","depth":"5cm depth","value":0.45},{"date":"2013-09-06","depth":"5cm depth","value":0.45},{"date":"2013-09-09","depth":"5cm depth","value":0.446},{"date":"2013-09-12","depth":"5cm depth","value":0.452},{"date":"2013-09-14","depth":"5cm depth","value":0.449},{"date":"2013-09-15","depth":"5cm depth","value":0.44},{"date":"2013-09-17","depth":"5cm depth","value":0.446},{"date":"2013-09-19","depth":"5cm depth","value":0.452},{"date":"2013-09-23","depth":"5cm depth","value":0.452},{"date":"2013-09-25","depth":"5cm depth","value":0.443},{"date":"2013-09-26","depth":"5cm depth","value":0.442},{"date":"2013-09-28","depth":"5cm depth","value":0.452},{"date":"2013-09-30","depth":"5cm depth","value":0.449},{"date":"2013-10-02","depth":"5cm depth","value":0.44},
{"date":"2013-05-30","depth":"10cm depth","value":0.4},{"date":"2013-06-05","depth":"10cm depth","value":0.4},{"date":"2013-06-07","depth":"10cm depth","value":0.396},{"date":"2013-06-09","depth":"10cm depth","value":0.391},{"date":"2013-06-13","depth":"10cm depth","value":0.391},{"date":"2013-06-15","depth":"10cm depth","value":0.38},{"date":"2013-06-23","depth":"10cm depth","value":0.38},{"date":"2013-06-25","depth":"10cm depth","value":0.375},{"date":"2013-06-26","depth":"10cm depth","value":0.368},{"date":"2013-06-28","depth":"10cm depth","value":0.374},{"date":"2013-06-29","depth":"10cm depth","value":0.368},{"date":"2013-07-14","depth":"10cm depth","value":0.368},{"date":"2013-07-15","depth":"10cm depth","value":0.38},{"date":"2013-07-17","depth":"10cm depth","value":0.397},{"date":"2013-07-19","depth":"10cm depth","value":0.377},{"date":"2013-07-21","depth":"10cm depth","value":0.353},{"date":"2013-07-22","depth":"10cm depth","value":0.357},{"date":"2013-07-24","depth":"10cm depth","value":0.393},{"date":"2013-07-26","depth":"10cm depth","value":0.379},{"date":"2013-07-28","depth":"10cm depth","value":0.393},{"date":"2013-07-31","depth":"10cm depth","value":0.405},{"date":"2013-08-02","depth":"10cm depth","value":0.413},{"date":"2013-08-04","depth":"10cm depth","value":0.418},{"date":"2013-08-06","depth":"10cm depth","value":0.43},{"date":"2013-08-09","depth":"10cm depth","value":0.435},{"date":"2013-08-11","depth":"10cm depth","value":0.44},{"date":"2013-10-02","depth":"10cm depth","value":0.44},
{"date":"2013-05-30","depth":"15cm depth","value":0.41},{"date":"2013-06-05","depth":"15cm depth","value":0.41},{"date":"2013-06-07","depth":"15cm depth","value":0.416},{"date":"2013-06-10","depth":"15cm depth","value":0.413},{"date":"2013-06-14","depth":"15cm depth","value":0.416},{"date":"2013-06-18","depth":"15cm depth","value":0.418},{"date":"2013-06-20","depth":"15cm depth","value":0.41},{"date":"2013-06-22","depth":"15cm depth","value":0.418},{"date":"2013-06-28","depth":"15cm depth","value":0.416},{"date":"2013-07-06","depth":"15cm depth","value":0.424},{"date":"2013-07-11","depth":"15cm depth","value":0.421},{"date":"2013-07-14","depth":"15cm depth","value":0.416},{"date":"2013-07-16","depth":"15cm depth","value":0.421},{"date":"2013-07-20","depth":"15cm depth","value":0.416},{"date":"2013-07-23","depth":"15cm depth","value":0.413},{"date":"2013-07-26","depth":"15cm depth","value":0.413},{"date":"2013-07-28","depth":"15cm depth","value":0.416},{"date":"2013-07-30","depth":"15cm depth","value":0.427},{"date":"2013-08-02","depth":"15cm depth","value":0.435},{"date":"2013-08-06","depth":"15cm depth","value":0.44},{"date":"2013-08-09","depth":"15cm depth","value":0.442},{"date":"2013-08-20","depth":"15cm depth","value":0.44},{"date":"2013-08-21","depth":"15cm depth","value":0.432},{"date":"2013-09-22","depth":"15cm depth","value":0.432},{"date":"2013-09-24","depth":"15cm depth","value":0.427},{"date":"2013-09-26","depth":"15cm depth","value":0.42},{"date":"2013-10-02","depth":"15cm depth","value":0.42},
{"date":"2013-05-30","depth":"20cm depth","value":0.42},{"date":"2013-06-07","depth":"20cm depth","value":0.423},{"date":"2013-06-12","depth":"20cm depth","value":0.42},{"date":"2013-07-06","depth":"20cm depth","value":0.425},{"date":"2013-07-16","depth":"20cm depth","value":0.423},{"date":"2013-07-26","depth":"20cm depth","value":0.42},{"date":"2013-07-30","depth":"20cm depth","value":0.428},{"date":"2013-08-02","depth":"20cm depth","value":0.432},{"date":"2013-08-06","depth":"20cm depth","value":0.435},{"date":"2013-08-11","depth":"20cm depth","value":0.432},{"date":"2013-08-18","depth":"20cm depth","value":0.43},{"date":"2013-08-21","depth":"20cm depth","value":0.421},{"date":"2013-09-07","depth":"20cm depth","value":0.421},{"date":"2013-09-09","depth":"20cm depth","value":0.414},{"date":"2013-09-13","depth":"20cm depth","value":0.418},{"date":"2013-09-15","depth":"20cm depth","value":0.416},{"date":"2013-09-17","depth":"20cm depth","value":0.411},{"date":"2013-10-02","depth":"20cm depth","value":0.411}
],
"temp":[
{"date":"2013-05-30","depth":"5cm depth","value":21.7},{"date":"2013-05-31","depth":"5cm depth","value":22.5},{"date":"2013-06-02","depth":"5cm depth","value":21.7},{"date":"2013-06-03","depth":"5cm depth","value":22.5},{"date":"2013-06-04","depth":"5cm depth","value":23.6},{"date":"2013-06-06","depth":"5cm depth","value":23.9},{"date":"2013-06-08","depth":"5cm depth","value":23.4},{"date":"2013-06-10","depth":"5cm depth","value":24.1},{"date":"2013-06-12","depth":"5cm depth","value":22.5},{"date":"2013-06-13","depth":"5cm depth","value":22.8},{"date":"2013-06-15","depth":"5cm depth","value":24.5},{"date":"2013-06-16","depth":"5cm depth","value":24.7},{"date":"2013-06-18","depth":"5cm depth","value":26.1},{"date":"2013-06-19","depth":"5cm depth","value":24.5},{"date":"2013-06-21","depth":"5cm depth","value":23.9},{"date":"2013-06-23","depth":"5cm depth","value":24.1},{"date":"2013-06-26","depth":"5cm depth","value":23.9},{"date":"2013-06-28","depth":"5cm depth","value":24.7},{"date":"2013-07-01","depth":"5cm depth","value":24.5},{"date":"2013-07-03","depth":"5cm depth","value":25},{"date":"2013-07-05","depth":"5cm depth","value":26.7},{"date":"2013-07-07","depth":"5cm depth","value":28.9},{"date":"2013-07-09","depth":"5cm depth","value":30},{"date":"2013-07-11","depth":"5cm depth","value":30.9},{"date":"2013-07-13","depth":"5cm depth","value":30.2},{"date":"2013-07-15","depth":"5cm depth","value":30},{"date":"2013-07-17","depth":"5cm depth","value":27.6},{"date":"2013-07-18","depth":"5cm depth","value":27.8},{"date":"2013-07-20","depth":"5cm depth","value":25.8},{"date":"2013-07-22","depth":"5cm depth","value":28},{"date":"2013-07-23","depth":"5cm depth","value":26.1},{"date":"2013-07-25","depth":"5cm depth","value":27.6},{"date":"2013-07-27","depth":"5cm depth","value":27.8},{"date":"2013-07-30","depth":"5cm depth","value":27.5},{"date":"2013-08-02","depth":"5cm depth","value":26.5},{"date":"2013-08-04","depth":"5cm depth","value":27.5},{"date":"2013-08-06","depth":"5cm depth","value":28.3},{"date":"2013-08-09","depth":"5cm depth","value":29.4},{"date":"2013-08-11","depth":"5cm depth","value":30.9},{"date":"2013-08-12","depth":"5cm depth","value":30.5},{"date":"2013-08-14","depth":"5cm depth","value":29.8},{"date":"2013-08-17","depth":"5cm depth","value":29.3},{"date":"2013-08-20","depth":"5cm depth","value":29.1},{"date":"2013-08-23","depth":"5cm depth","value":28},{"date":"2013-08-25","depth":"5cm depth","value":27.2},{"date":"2013-08-27","depth":"5cm depth","value":26},{"date":"2013-08-29","depth":"5cm depth","value":26},{"date":"2013-08-30","depth":"5cm depth","value":27.8},{"date":"2013-09-01","depth":"5cm depth","value":29.1},{"date":"2013-09-04","depth":"5cm depth","value":28.7},{"date":"2013-09-07","depth":"5cm depth","value":26.7},{"date":"2013-09-09","depth":"5cm depth","value":25.4},{"date":"2013-09-12","depth":"5cm depth","value":25},{"date":"2013-09-14","depth":"5cm depth","value":25.8},{"date":"2013-09-17","depth":"5cm depth","value":26.1},{"date":"2013-09-18","depth":"5cm depth","value":23.9},{"date":"2013-09-20","depth":"5cm depth","value":22.8},{"date":"2013-09-23","depth":"5cm depth","value":24.5},{"date":"2013-09-24","depth":"5cm depth","value":22.5},{"date":"2013-09-26","depth":"5cm depth","value":23},{"date":"2013-09-28","depth":"5cm depth","value":21.7},{"date":"2013-09-29","depth":"5cm depth","value":20},{"date":"2013-09-30","depth":"5cm depth","value":20.6},{"date":"2013-10-02","depth":"5cm depth","value":21.5},
{"date":"2013-05-30","depth":"10cm depth","value":22.0},{"date":"2013-06-01","depth":"10cm depth","value":22.1},{"date":"2013-06-03","depth":"10cm depth","value":22.2},{"date":"2013-06-05","depth":"10cm depth","value":23.6},{"date":"2013-06-08","depth":"10cm depth","value":23.6},{"date":"2013-06-10","depth":"10cm depth","value":23.9},{"date":"2013-06-12","depth":"10cm depth","value":22.8},{"date":"2013-06-14","depth":"10cm depth","value":23.8},{"date":"2013-06-16","depth":"10cm depth","value":25.0},{"date":"2013-06-18","depth":"10cm depth","value":25.8},{"date":"2013-06-20","depth":"10cm depth","value":24.2},{"date":"2013-06-23","depth":"10cm depth","value":24.0},{"date":"2013-06-26","depth":"10cm depth","value":24.1},{"date":"2013-06-28","depth":"10cm depth","value":24.5},{"date":"2013-07-01","depth":"10cm depth","value":24.6},{"date":"2013-07-04","depth":"10cm depth","value":25.4},{"date":"2013-07-07","depth":"10cm depth","value":28.3},{"date":"2013-07-09","depth":"10cm depth","value":29.6},{"date":"2013-07-11","depth":"10cm depth","value":30.6},{"date":"2013-07-13","depth":"10cm depth","value":30.4},{"date":"2013-07-15","depth":"10cm depth","value":30.0},{"date":"2013-07-17","depth":"10cm depth","value":28.0},{"date":"2013-07-20","depth":"10cm depth","value":26.2},{"date":"2013-07-22","depth":"10cm depth","value":27.6},{"date":"2013-07-23","depth":"10cm depth","value":26.5},{"date":"2013-07-25","depth":"10cm depth","value":27.4},{"date":"2013-07-28","depth":"10cm depth","value":27.6},{"date":"2013-08-02","depth":"10cm depth","value":26.8},{"date":"2013-08-06","depth":"10cm depth","value":28.0},{"date":"2013-08-09","depth":"10cm depth","value":29.2},{"date":"2013-08-11","depth":"10cm depth","value":30.6},{"date":"2013-08-14","depth":"10cm depth","value":29.9},{"date":"2013-08-20","depth":"10cm depth","value":29.0},{"date":"2013-08-25","depth":"10cm depth","value":27.4},{"date":"2013-08-28","depth":"10cm depth","value":26.2},{"date":"2013-08-30","depth":"10cm depth","value":27.5},{"date":"2013-09-01","depth":"10cm depth","value":28.8},{"date":"2013-09-04","depth":"10cm depth","value":28.6},{"date":"2013-09-07","depth":"10cm depth","value":27.0},{"date":"2013-09-10","depth":"10cm depth","value":25.3},{"date":"2013-09-14","depth":"10cm depth","value":25.6},{"date":"2013-09-17","depth":"10cm depth","value":25.9},{"date":"2013-09-18","depth":"10cm depth","value":24.2},{"date":"2013-09-20","depth":"10cm depth","value":23.0},{"date":"2013-09-23","depth":"10cm depth","value":24.2},{"date":"2013-09-24","depth":"10cm depth","value":22.8},{"date":"2013-09-26","depth":"10cm depth","value":22.9},{"date":"2013-09-28","depth":"10cm depth","value":21.9},{"date":"2013-09-29","depth":"10cm depth","value":20.4},{"date":"2013-10-02","depth":"10cm depth","value":21.6},
{"date":"2013-05-30","depth":"15cm depth","value":22.2},{"date":"2013-06-02","depth":"15cm depth","value":22.0},{"date":"2013-06-05","depth":"15cm depth","value":23.4},{"date":"2013-06-08","depth":"15cm depth","value":23.7},{"date":"2013-06-10","depth":"15cm depth","value":23.8},{"date":"2013-06-12","depth":"15cm depth","value":23.0},{"date":"2013-06-15","depth":"15cm depth","value":24.1},{"date":"2013-06-18","depth":"15cm depth","value":25.6},{"date":"2013-06-20","depth":"15cm depth","value":24.4},{"date":"2013-06-25","depth":"15cm depth","value":24.0},{"date":"2013-06-29","depth":"15cm depth","value":24.6},{"date":"2013-07-03","depth":"15cm depth","value":25.2},{"date":"2013-07-07","depth":"15cm depth","value":28.0},{"date":"2013-07-10","depth":"15cm depth","value":29.9},{"date":"2013-07-12","depth":"15cm depth","value":30.5},{"date":"2013-07-15","depth":"15cm depth","value":30.1},{"date":"2013-07-17","depth":"15cm depth","value":28.3},{"date":"2013-07-20","depth":"15cm depth","value":26.5},{"date":"2013-07-22","depth":"15cm depth","value":27.4},{"date":"2013-07-25","depth":"15cm depth","value":27.2},{"date":"2013-07-28","depth":"15cm depth","value":27.5},{"date":"2013-08-02","depth":"15cm depth","value":27.0},{"date":"2013-08-06","depth":"15cm depth","value":27.9},{"date":"2013-08-11","depth":"15cm depth","value":30.4},{"date":"2013-08-15","depth":"15cm depth","value":29.6},{"date":"2013-08-20","depth":"15cm depth","value":29.0},{"date":"2013-08-25","depth":"15cm depth","value":27.5},{"date":"2013-08-28","depth":"15cm depth","value":26.4},{"date":"2013-09-01","depth":"15cm depth","value":28.6},{"date":"2013-09-04","depth":"15cm depth","value":28.5},{"date":"2013-09-07","depth":"15cm depth","value":27.2},{"date":"2013-09-10","depth":"15cm depth","value":25.5},{"date":"2013-09-14","depth":"15cm depth","value":25.5},{"date":"2013-09-17","depth":"15cm depth","value":25.8},{"date":"2013-09-20","depth":"15cm depth","value":23.3},{"date":"2013-09-23","depth":"15cm depth","value":24.0},{"date":"2013-09-25","depth":"15cm depth","value":23.0},{"date":"2013-09-28","depth":"15cm depth","value":22.2},{"date":"2013-09-29","depth":"15cm depth","value":20.8},{"date":"2013-10-02","depth":"15cm depth","value":21.7},
{"date":"2013-05-30","depth":"20cm depth","value":22.3},{"date":"2013-06-03","depth":"20cm depth","value":22.1},{"date":"2013-06-06","depth":"20cm depth","value":23.4},{"date":"2013-06-10","depth":"20cm depth","value":23.7},{"date":"2013-06-13","depth":"20cm depth","value":23.2},{"date":"2013-06-16","depth":"20cm depth","value":24.3},{"date":"2013-06-19","depth":"20cm depth","value":25.3},{"date":"2013-06-22","depth":"20cm depth","value":24.3},{"date":"2013-06-27","depth":"20cm depth","value":24.1},{"date":"2013-07-01","depth":"20cm depth","value":24.7},{"date":"2013-07-05","depth":"20cm depth","value":25.8},{"date":"2013-07-08","depth":"20cm depth","value":28.2},{"date":"2013-07-11","depth":"20cm depth","value":30.2},{"date":"2013-07-14","depth":"20cm depth","value":30.2},{"date":"2013-07-17","depth":"20cm depth","value":28.6},{"date":"2013-07-20","depth":"20cm depth","value":26.8},{"date":"2013-07-23","depth":"20cm depth","value":27.1},{"date":"2013-07-27","depth":"20cm depth","value":27.4},{"date":"2013-08-02","depth":"20cm depth","value":27.1},{"date":"2013-08-07","depth":"20cm depth","value":28.1},{"date":"2013-08-11","depth":"20cm depth","value":30.2},{"date":"2013-08-16","depth":"20cm depth","value":29.4},{"date":"2013-08-22","depth":"20cm depth","value":28.4},{"date":"2013-08-27","depth":"20cm depth","value":26.6},{"date":"2013-08-30","depth":"20cm depth","value":27.3},{"date":"2013-09-02","depth":"20cm depth","value":28.6},{"date":"2013-09-06","depth":"20cm depth","value":27.6},{"date":"2013-09-10","depth":"20cm depth","value":25.6},{"date":"2013-09-15","depth":"20cm depth","value":25.6},{"date":"2013-09-18","depth":"20cm depth","value":24.6},{"date":"2013-09-21","depth":"20cm depth","value":23.4},{"date":"2013-09-24","depth":"20cm depth","value":23.4},{"date":"2013-09-27","depth":"20cm depth","value":22.5},{"date":"2013-09-29","depth":"20cm depth","value":21.1},{"date":"2013-10-02","depth":"20cm depth","value":21.8}
]
},
"vconcat":[
{
 "width":1165,"height":35,
 "view":{"stroke":null},
 "layer":[
  {"data":{"name":"phases"},"mark":{"type":"rule","color":"black","strokeWidth":1.2},
   "encoding":{"x":{"field":"date","type":"temporal","scale":{"type":"utc","domain":[{"year":2013,"month":5,"date":25,"utc":true},{"year":2013,"month":10,"date":7,"utc":true}]},"axis":null}}},
  {"data":{"name":"phaseC"},"mark":{"type":"text","font":"Liberation Sans","fontSize":22,"color":"#1a1a1a","align":"center","baseline":"middle"},
   "encoding":{"x":{"field":"date","type":"temporal","axis":null},"y":{"datum":0.6,"type":"quantitative","scale":{"domain":[0,1],"nice":false,"zero":false},"axis":null},"text":{"field":"name"}}},
  {"data":{"name":"phaseL"},"mark":{"type":"text","font":"Liberation Sans","fontSize":22,"color":"#1a1a1a","align":"left","baseline":"middle"},
   "encoding":{"x":{"field":"date","type":"temporal","axis":null},"y":{"datum":0.6,"type":"quantitative","axis":null},"text":{"field":"name"}}},
  {"data":{"values":[{}]},"mark":{"type":"rule","color":"#555","strokeWidth":1},
   "encoding":{"x":{"datum":{"year":2013,"month":5,"date":10,"hours":10,"utc":true},"type":"temporal","axis":null},"x2":{"datum":{"year":2013,"month":10,"date":15,"hours":3,"utc":true}},"y":{"datum":1.743,"type":"quantitative","axis":null}}},
  {"data":{"values":[{}]},"mark":{"type":"rule","color":"#555","strokeWidth":1},
   "encoding":{"x":{"datum":{"year":2013,"month":5,"date":9,"utc":true},"type":"temporal","axis":null},"y":{"datum":1.4,"type":"quantitative","axis":null},"y2":{"datum":-23.17}}},
  {"data":{"values":[{}]},"mark":{"type":"arc","color":"#555","radius":12.5,"radius2":11.5,"theta":-1.5708,"theta2":0},
   "encoding":{"x":{"datum":{"year":2013,"month":5,"date":10,"hours":10,"utc":true},"type":"temporal","axis":null},"y":{"datum":1.4,"type":"quantitative","axis":null}}}
 ]
},
{
 "width":1165,"height":134,
 "layer":[
  {"data":{"name":"ph"},"mark":{"type":"line","color":"black","strokeWidth":1.2},
   "encoding":{
    "x":{"field":"date","type":"temporal","scale":{"type":"utc","domain":[{"year":2013,"month":5,"date":25,"utc":true},{"year":2013,"month":10,"date":7,"utc":true}]},
         "axis":{"orient":"bottom","labels":false,"tickSize":-6,"title":null,"values":[{"year":2013,"month":6,"date":1,"utc":true},{"year":2013,"month":6,"date":8,"utc":true},{"year":2013,"month":6,"date":15,"utc":true},{"year":2013,"month":6,"date":22,"utc":true},{"year":2013,"month":6,"date":29,"utc":true},{"year":2013,"month":7,"date":6,"utc":true},{"year":2013,"month":7,"date":13,"utc":true},{"year":2013,"month":7,"date":20,"utc":true},{"year":2013,"month":7,"date":27,"utc":true},{"year":2013,"month":8,"date":3,"utc":true},{"year":2013,"month":8,"date":10,"utc":true},{"year":2013,"month":8,"date":17,"utc":true},{"year":2013,"month":8,"date":24,"utc":true},{"year":2013,"month":8,"date":31,"utc":true},{"year":2013,"month":9,"date":7,"utc":true},{"year":2013,"month":9,"date":14,"utc":true},{"year":2013,"month":9,"date":21,"utc":true},{"year":2013,"month":9,"date":28,"utc":true}]}},
    "y":{"field":"value","type":"quantitative","scale":{"domain":[4,10],"nice":false,"zero":false},
         "axis":{"orient":"left","values":[4,5,6,7,8,9,10],"tickSize":-5,"labelPadding":23,"title":"pH level","titleFontSize":16.5,"titleAnchor":"end","titleX":-51}},
    "strokeDash":{"field":"depth","type":"nominal","scale":{"domain":["5cm depth","10cm depth","15cm depth"],"range":[[1,0],[6,4],[2,2]]},
         "legend":{"title":null,"columns":3,"legendX":74,"legendY":15}}
   }},
  {"data":{"values":[{}]},"mark":{"type":"text","text":"a","font":"Liberation Sans","fontSize":21,"color":"#1a1a1a","align":"center","baseline":"middle"},
   "encoding":{
    "x":{"datum":{"year":2013,"month":5,"date":27,"hours":12,"utc":true},"type":"temporal",
         "axis":{"orient":"top","labels":false,"tickSize":-6,"title":null,"values":[{"year":2013,"month":6,"date":1,"utc":true},{"year":2013,"month":6,"date":8,"utc":true},{"year":2013,"month":6,"date":15,"utc":true},{"year":2013,"month":6,"date":22,"utc":true},{"year":2013,"month":6,"date":29,"utc":true},{"year":2013,"month":7,"date":6,"utc":true},{"year":2013,"month":7,"date":13,"utc":true},{"year":2013,"month":7,"date":20,"utc":true},{"year":2013,"month":7,"date":27,"utc":true},{"year":2013,"month":8,"date":3,"utc":true},{"year":2013,"month":8,"date":10,"utc":true},{"year":2013,"month":8,"date":17,"utc":true},{"year":2013,"month":8,"date":24,"utc":true},{"year":2013,"month":8,"date":31,"utc":true},{"year":2013,"month":9,"date":7,"utc":true},{"year":2013,"month":9,"date":14,"utc":true},{"year":2013,"month":9,"date":21,"utc":true},{"year":2013,"month":9,"date":28,"utc":true}]}},
    "y":{"datum":7.9,"type":"quantitative","axis":{"orient":"right","labels":false,"tickSize":-5,"title":null,"values":[4,5,6,7,8,9,10]}}
   }}
 ],
 "resolve":{"axis":{"x":"independent","y":"independent"}}
},
{
 "width":1165,"height":131,
 "layer":[
  {"data":{"name":"orp"},"mark":{"type":"line","color":"black","strokeWidth":1.2},
   "encoding":{
    "x":{"field":"date","type":"temporal","scale":{"type":"utc","domain":[{"year":2013,"month":5,"date":25,"utc":true},{"year":2013,"month":10,"date":7,"utc":true}]},
         "axis":{"orient":"bottom","labels":false,"tickSize":-6,"title":null,"values":[{"year":2013,"month":6,"date":1,"utc":true},{"year":2013,"month":6,"date":8,"utc":true},{"year":2013,"month":6,"date":15,"utc":true},{"year":2013,"month":6,"date":22,"utc":true},{"year":2013,"month":6,"date":29,"utc":true},{"year":2013,"month":7,"date":6,"utc":true},{"year":2013,"month":7,"date":13,"utc":true},{"year":2013,"month":7,"date":20,"utc":true},{"year":2013,"month":7,"date":27,"utc":true},{"year":2013,"month":8,"date":3,"utc":true},{"year":2013,"month":8,"date":10,"utc":true},{"year":2013,"month":8,"date":17,"utc":true},{"year":2013,"month":8,"date":24,"utc":true},{"year":2013,"month":8,"date":31,"utc":true},{"year":2013,"month":9,"date":7,"utc":true},{"year":2013,"month":9,"date":14,"utc":true},{"year":2013,"month":9,"date":21,"utc":true},{"year":2013,"month":9,"date":28,"utc":true}]}},
    "y":{"field":"value","type":"quantitative","scale":{"domain":[-300,300],"nice":false,"zero":false},
         "axis":{"orient":"left","values":[-300,-200,-100,0,100,200,300],"labelExpr":"'' + datum.value","tickSize":-5,"labelPadding":23,"title":"ORP[mV]","titleAnchor":"end","titleX":-52}},
    "strokeDash":{"field":"depth","type":"nominal","scale":{"domain":["5cm depth","20cm depth","15cm depth"],"range":[[1,0],[2,2],[7,5]]},
         "legend":{"title":null,"columns":2,"legendX":376,"legendY":11}}
   }},
  {"data":{"values":[{}]},"mark":{"type":"rule","color":"black","strokeWidth":1.3,"strokeDash":[8,5]},
   "encoding":{"y":{"datum":0,"type":"quantitative","axis":null}}},
  {"data":{"values":[{}]},"mark":{"type":"text","text":"b","font":"Liberation Sans","fontSize":21,"color":"#1a1a1a","align":"center","baseline":"middle"},
   "encoding":{
    "x":{"datum":{"year":2013,"month":5,"date":27,"hours":12,"utc":true},"type":"temporal","axis":null},
    "y":{"datum":-100,"type":"quantitative","axis":{"orient":"right","labels":false,"tickSize":-5,"title":null,"values":[-300,-200,-100,0,100,200,300]}}
   }}
 ],
 "resolve":{"axis":{"x":"independent","y":"independent"}}
},
{
 "width":1165,"height":132,
 "layer":[
  {"data":{"name":"pond"},"mark":{"type":"line","color":"black","strokeWidth":1.2},
   "encoding":{
    "x":{"field":"date","type":"temporal","scale":{"type":"utc","domain":[{"year":2013,"month":5,"date":25,"utc":true},{"year":2013,"month":10,"date":7,"utc":true}]},
         "axis":{"orient":"bottom","labels":false,"tickSize":-6,"title":null,"values":[{"year":2013,"month":6,"date":1,"utc":true},{"year":2013,"month":6,"date":8,"utc":true},{"year":2013,"month":6,"date":15,"utc":true},{"year":2013,"month":6,"date":22,"utc":true},{"year":2013,"month":6,"date":29,"utc":true},{"year":2013,"month":7,"date":6,"utc":true},{"year":2013,"month":7,"date":13,"utc":true},{"year":2013,"month":7,"date":20,"utc":true},{"year":2013,"month":7,"date":27,"utc":true},{"year":2013,"month":8,"date":3,"utc":true},{"year":2013,"month":8,"date":10,"utc":true},{"year":2013,"month":8,"date":17,"utc":true},{"year":2013,"month":8,"date":24,"utc":true},{"year":2013,"month":8,"date":31,"utc":true},{"year":2013,"month":9,"date":7,"utc":true},{"year":2013,"month":9,"date":14,"utc":true},{"year":2013,"month":9,"date":21,"utc":true},{"year":2013,"month":9,"date":28,"utc":true}]}},
    "y":{"field":"value","type":"quantitative","scale":{"domain":[-20,20],"nice":false,"zero":false},
         "axis":{"orient":"left","values":[-20,-10,0,10,20],"labelExpr":"'' + datum.value","tickSize":-5,"labelPadding":23,"title":"Ponding depth[cm]","titleX":-52}},
    "strokeDash":{"field":"tube","type":"nominal","scale":{"domain":["11cm diameter tube","13.5cm diameter tube"],"range":[[1,0],[6,4]]},
         "legend":{"title":null,"columns":2,"columnPadding":19,"legendX":74,"legendY":19}}
   }},
  {"data":{"values":[{}]},"mark":{"type":"rule","color":"black","strokeWidth":1.3,"strokeDash":[8,5]},
   "encoding":{"y":{"datum":0,"type":"quantitative","axis":null}}},
  {"data":{"values":[{}]},"mark":{"type":"text","text":"c","font":"Liberation Sans","fontSize":21,"color":"#1a1a1a","align":"center","baseline":"middle"},
   "encoding":{
    "x":{"datum":{"year":2013,"month":5,"date":27,"hours":12,"utc":true},"type":"temporal","axis":null},
    "y":{"datum":-10,"type":"quantitative","axis":{"orient":"right","labels":false,"tickSize":-5,"title":null,"values":[-20,-10,0,10,20]}}
   }}
 ],
 "resolve":{"axis":{"x":"independent","y":"independent"}}
},
{
 "width":1165,"height":132,
 "layer":[
  {"data":{"name":"swc"},"mark":{"type":"line","color":"black","strokeWidth":1.2},
   "encoding":{
    "x":{"field":"date","type":"temporal","scale":{"type":"utc","domain":[{"year":2013,"month":5,"date":25,"utc":true},{"year":2013,"month":10,"date":7,"utc":true}]},
         "axis":{"orient":"bottom","labels":false,"tickSize":-6,"title":null,"values":[{"year":2013,"month":6,"date":1,"utc":true},{"year":2013,"month":6,"date":8,"utc":true},{"year":2013,"month":6,"date":15,"utc":true},{"year":2013,"month":6,"date":22,"utc":true},{"year":2013,"month":6,"date":29,"utc":true},{"year":2013,"month":7,"date":6,"utc":true},{"year":2013,"month":7,"date":13,"utc":true},{"year":2013,"month":7,"date":20,"utc":true},{"year":2013,"month":7,"date":27,"utc":true},{"year":2013,"month":8,"date":3,"utc":true},{"year":2013,"month":8,"date":10,"utc":true},{"year":2013,"month":8,"date":17,"utc":true},{"year":2013,"month":8,"date":24,"utc":true},{"year":2013,"month":8,"date":31,"utc":true},{"year":2013,"month":9,"date":7,"utc":true},{"year":2013,"month":9,"date":14,"utc":true},{"year":2013,"month":9,"date":21,"utc":true},{"year":2013,"month":9,"date":28,"utc":true}]}},
    "y":{"field":"value","type":"quantitative","scale":{"domain":[0.3,0.5],"nice":false,"zero":false},
         "axis":{"orient":"left","values":[0.3,0.35,0.4,0.45,0.5],"format":".2f","labelFlush":true,"labelFlushOffset":-2,"tickSize":-5,"labelPadding":23,"title":"Soil water content","titleX":-52}},
    "strokeDash":{"field":"depth","type":"nominal","scale":{"domain":["5cm depth","10cm depth","15cm depth","20cm depth"],"range":[[1,0],[6,4],[2,2],[6,3,2,3]]},
         "legend":{"title":null,"columns":4,"legendX":74,"legendY":11}}
   }},
  {"data":{"values":[{}]},"mark":{"type":"text","text":"d","font":"Liberation Sans","fontSize":21,"color":"#1a1a1a","align":"center","baseline":"middle"},
   "encoding":{
    "x":{"datum":{"year":2013,"month":5,"date":27,"hours":12,"utc":true},"type":"temporal","axis":null},
    "y":{"datum":0.35,"type":"quantitative","axis":{"orient":"right","labels":false,"tickSize":-5,"title":null,"values":[0.3,0.35,0.4,0.45,0.5]}}
   }}
 ],
 "resolve":{"axis":{"x":"independent","y":"independent"}}
},
{
 "width":1165,"height":114,
 "layer":[
  {"data":{"name":"temp"},"mark":{"type":"line","color":"black","strokeWidth":1.2},
   "encoding":{
    "x":{"field":"date","type":"temporal","scale":{"type":"utc","domain":[{"year":2013,"month":5,"date":25,"utc":true},{"year":2013,"month":10,"date":7,"utc":true}]},
         "axis":{"orient":"bottom","labels":true,"format":"%m/%d","labelFontSize":17,"labelPadding":26,"tickSize":-6,"title":"Date 2013","titleFontSize":18,"titlePadding":17,"values":[{"year":2013,"month":6,"date":1,"utc":true},{"year":2013,"month":6,"date":8,"utc":true},{"year":2013,"month":6,"date":15,"utc":true},{"year":2013,"month":6,"date":22,"utc":true},{"year":2013,"month":6,"date":29,"utc":true},{"year":2013,"month":7,"date":6,"utc":true},{"year":2013,"month":7,"date":13,"utc":true},{"year":2013,"month":7,"date":20,"utc":true},{"year":2013,"month":7,"date":27,"utc":true},{"year":2013,"month":8,"date":3,"utc":true},{"year":2013,"month":8,"date":10,"utc":true},{"year":2013,"month":8,"date":17,"utc":true},{"year":2013,"month":8,"date":24,"utc":true},{"year":2013,"month":8,"date":31,"utc":true},{"year":2013,"month":9,"date":7,"utc":true},{"year":2013,"month":9,"date":14,"utc":true},{"year":2013,"month":9,"date":21,"utc":true},{"year":2013,"month":9,"date":28,"utc":true}]}},
    "y":{"field":"value","type":"quantitative","scale":{"domain":[0,35],"nice":false,"zero":false},
         "axis":{"orient":"left","values":[0,5,10,15,20,25,30,35],"labelFontSize":12.5,"labelFlush":false,"labelOffset":5,"tickSize":-5,"labelPadding":23,"title":"Temperature[°c]","titleFontSize":18,"titleX":-54}},
    "strokeDash":{"field":"depth","type":"nominal","scale":{"domain":["5cm depth","10cm depth","15cm depth","20cm depth"],"range":[[1,0],[6,4],[2,2],[6,3,2,3]]},
         "legend":{"title":null,"columns":4,"legendX":74,"legendY":63}}
   }},
  {"data":{"values":[{}]},"mark":{"type":"text","text":"e","font":"Liberation Sans","fontSize":21,"color":"#1a1a1a","align":"center","baseline":"middle"},
   "encoding":{
    "x":{"datum":{"year":2013,"month":5,"date":27,"hours":12,"utc":true},"type":"temporal","axis":null},
    "y":{"datum":29,"type":"quantitative","axis":{"orient":"right","labels":false,"tickSize":-5,"title":null,"values":[0,5,10,15,20,25,30,35]}}
   }},
  {"data":{"values":[{}]},"mark":{"type":"text","text":"Figure 2:","font":"DejaVu Serif","fontSize":16.6,"fontWeight":"bold","color":"#111","align":"left","baseline":"middle"},
   "encoding":{
    "x":{"datum":{"year":2013,"month":5,"date":10,"hours":10,"utc":true},"type":"temporal","axis":null},
    "y":{"datum":-38.07,"type":"quantitative","axis":null}
   }},
  {"data":{"values":[{}]},"mark":{"type":"text","text":"Physicochemical properties (rice growing season).","font":"DejaVu Serif","fontSize":18.8,"color":"#111","align":"left","baseline":"middle"},
   "encoding":{
    "x":{"datum":{"year":2013,"month":5,"date":20,"hours":14,"utc":true},"type":"temporal","axis":null},
    "y":{"datum":-38.07,"type":"quantitative","axis":null}
   }}
 ],
 "resolve":{"axis":{"x":"independent","y":"independent"}}
}
]
}
